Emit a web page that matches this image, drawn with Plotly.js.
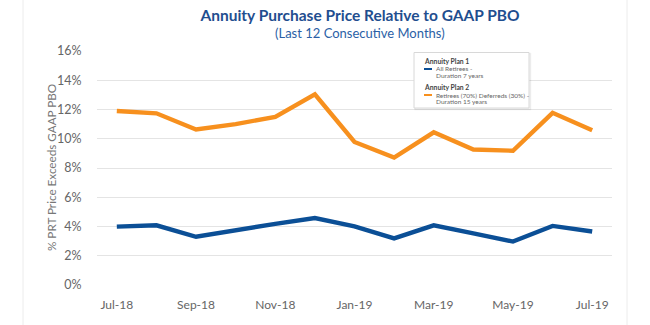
<!DOCTYPE html>
<html>
<head>
<meta charset="utf-8">
<script src="https://cdn.plot.ly/plotly-3.0.1.min.js"></script>
<style>html,body{margin:0;padding:0;background:#fff;}#chart{width:650px;height:325px;}</style>
</head>
<body>
<div id="chart"></div>
<script>
const months = ["Jul-18","Aug-18","Sep-18","Oct-18","Nov-18","Dec-18","Jan-19","Feb-19","Mar-19","Apr-19","May-19","Jun-19","Jul-19"];
const plan1 = [3.99, 4.08, 3.30, 3.76, 4.18, 4.58, 4.01, 3.19, 4.08, 3.53, 2.97, 4.04, 3.66];
const plan2 = [11.90, 11.74, 10.63, 11.00, 11.50, 13.03, 9.78, 8.71, 10.44, 9.26, 9.18, 11.77, 10.58];
const tickLabels = ["Jul-18","Sep-18","Nov-18","Jan-19","Mar-19","May-19","Jul-19"];
const groupTitles = ["Annuity Plan 1", "Annuity Plan 2"];
const seriesNameLines = [["All Retirees -", "Duration 7 years"], ["Retirees (70%) Deferreds (30%) -", "Duration 15 years"]];

const colors = ["#0B4F96", "#F7901E"];
const PL = 97, PR = 612, PT = 51, PB = 285;
const px = x => (x - PL) / (PR - PL);
const py = y => (PB - y) / (PB - PT);
const FAM = 'Lato, "Open Sans", sans-serif';

const traces = [plan1, plan2].map((vals, i) => ({
  x: months, y: vals, type: 'scatter', mode: 'lines',
  name: seriesNameLines[i].join(' '),
  line: {color: colors[i], width: 4.4},
  showlegend: false, hoverinfo: 'none'
}));

const shapes = [
  {type:'line', xref:'paper', yref:'paper', x0:px(23), x1:px(23), y0:py(0), y1:py(325), line:{color:'#ececec', width:1}},
  {type:'line', xref:'paper', yref:'paper', x0:px(627), x1:px(627), y0:py(0), y1:py(325), line:{color:'#ececec', width:1}},
  {type:'rect', xref:'paper', yref:'paper', x0:px(415), x1:px(530.5), y0:py(109.5), y1:py(53.5), line:{color:'rgba(0,0,0,0.06)', width:1.5}, fillcolor:'rgba(0,0,0,0.03)'},
  {type:'rect', xref:'paper', yref:'paper', x0:px(414), x1:px(529), y0:py(108), y1:py(52.5), line:{color:'#d8d8d8', width:1}, fillcolor:'#ffffff'},
  {type:'line', xref:'paper', yref:'paper', x0:px(424), x1:px(432), y0:py(69), y1:py(69), line:{color:colors[0], width:2}},
  {type:'line', xref:'paper', yref:'paper', x0:px(424), x1:px(432), y0:py(95), y1:py(95), line:{color:colors[1], width:2}}
];

const legFont = {family:FAM, size:6.5, color:'#666'};
const titleFont = {family:FAM, size:6.8, color:'#444'};
const ann = (x, y, text, font, extra) => Object.assign({xref:'paper', yref:'paper', x:px(x), y:py(y), text:text, showarrow:false, xanchor:'left', yanchor:'middle', font:font}, extra || {});
const annotations = [
  ann(360, 33, '(Last 12 Consecutive Months)', {family:FAM, size:13, color:'#2B5FA6'}, {xanchor:'center'}),
  ann(51, 168, '% PRT Price Exceeds GAAP PBO', {family:FAM, size:11.7, color:'#777'}, {xanchor:'center', textangle:-90}),
  ann(422, 60.7, '<b>'+groupTitles[0]+'</b>', titleFont),
  ann(434, 69, seriesNameLines[0][0], legFont),
  ann(434, 75.7, seriesNameLines[0][1], legFont),
  ann(422, 87.3, '<b>'+groupTitles[1]+'</b>', titleFont),
  ann(434, 95, seriesNameLines[1][0], legFont),
  ann(434, 101.7, seriesNameLines[1][1], legFont)
];

const layout = {
  width:650, height:325,
  margin:{l:PL, r:650-PR, t:PT, b:325-PB, pad:0},
  paper_bgcolor:'#ffffff', plot_bgcolor:'#ffffff',
  showlegend:false,
  title:{text:'<b>Annuity Purchase Price Relative to GAAP PBO</b>', xref:'paper', x:px(360), xanchor:'center', yref:'container', y:1-16/325, yanchor:'middle',
    font:{family:FAM, size:15.5, color:'#1F4E8F'}},
  xaxis:{type:'category', range:[-0.5, 12.5], tickvals:tickLabels, ticktext:tickLabels, showgrid:false, zeroline:false, showline:false,
    ticks:'outside', ticklen:9, tickcolor:'rgba(0,0,0,0)', tickfont:{family:FAM, size:12, color:'#666'}, fixedrange:true, automargin:false},
  yaxis:{range:[0,16], dtick:2, ticksuffix:'%', showgrid:true, gridcolor:'#e4e4e4', gridwidth:1, zeroline:false, showline:false,
    ticks:'outside', ticklen:12, tickcolor:'rgba(0,0,0,0)', tickfont:{family:FAM, size:12.5, color:'#666'},
    automargin:false, fixedrange:true},
  shapes: shapes,
  annotations: annotations
};

Plotly.newPlot('chart', traces, layout, {staticPlot:true, displayModeBar:false});
</script>
</body>
</html>
